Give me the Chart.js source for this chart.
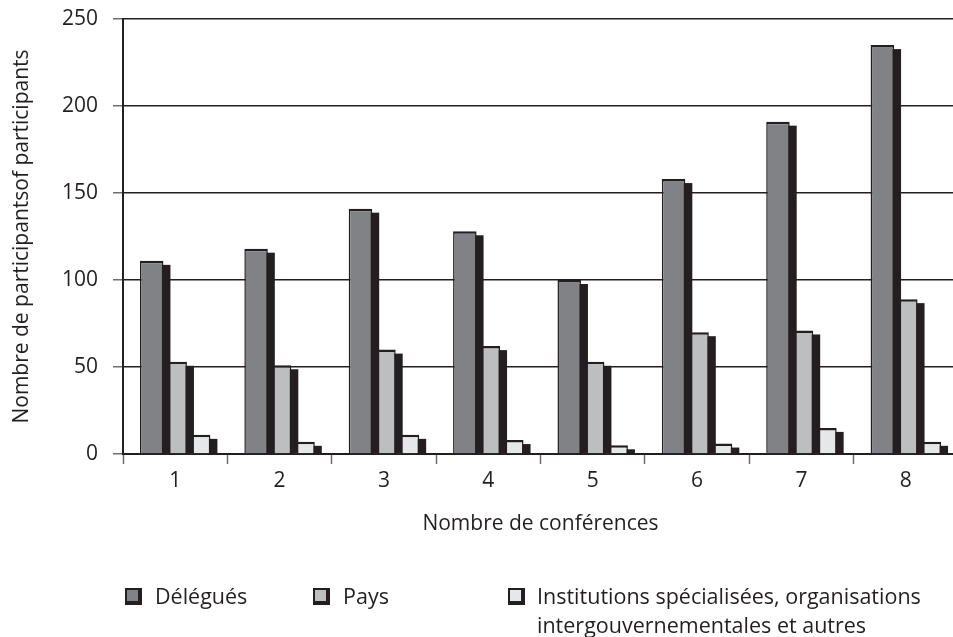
<!DOCTYPE html>
<html>
<head>
<meta charset="utf-8">
<script src="https://cdn.jsdelivr.net/npm/chart.js@4"></script>
<style>
html,body{margin:0;padding:0;overflow:hidden;background:#fff;width:953px;height:637px;}
#wrap{position:relative;width:960px;height:637px;}
canvas{position:absolute;left:0;top:0;}
.leg{position:absolute;font-family:'Open Sans',sans-serif;font-size:21.5px;color:#231f20;line-height:29px;white-space:nowrap;}
.box{position:absolute;width:13px;height:13px;border:2px solid #231f20;box-shadow:inset -2px -2px 0 #231f20;}
</style>
</head>
<body>
<div id="wrap">
<canvas id="c" width="960" height="637"></canvas>
<div class="box" style="left:125px;top:588px;background:#808285"></div>
<div class="leg" style="left:155px;top:581px">Délégués</div>
<div class="box" style="left:313px;top:588px;background:#bcbec0"></div>
<div class="leg" style="left:343px;top:581px">Pays</div>
<div class="box" style="left:508px;top:588px;background:#e6e7e8"></div>
<div class="leg" style="left:537px;top:581px">Institutions spécialisées, organisations<br>intergouvernementales et autres</div>
</div>
<script>
const categories = ['1', '2', '3', '4', '5', '6', '7', '8'];
const delegues = [111, 118, 141, 128, 100, 158, 191, 235];
const pays = [53, 51, 60, 62, 53, 70, 71, 89];
const institutions = [11, 7, 11, 8, 5, 6, 15, 7];
const yTicks = [0, 50, 100, 150, 200, 250];
const seriesNames = ['Délégués', 'Pays', 'Institutions spécialisées, organisations intergouvernementales et autres'];

const DARK = '#231f20';
const font = {family: "'Open Sans', sans-serif", size: 21};

const shadowPlugin = {
  id: 'barShadow',
  beforeDatasetDraw(chart, args) {
    const ctx = chart.ctx;
    const a = chart.chartArea;
    ctx.save();
    ctx.beginPath();
    ctx.rect(a.left, a.top, a.right - a.left, a.bottom - a.top);
    ctx.clip();
    ctx.fillStyle = DARK;
    args.meta.data.forEach(el => {
      const p = el.getProps(['x', 'y', 'base', 'width'], true);
      const h = p.base - p.y - 4;
      if (h > 0) ctx.fillRect(p.x - p.width / 2 + 7, p.y + 4, p.width, h);
    });
    ctx.restore();
  }
};

const barStyle = {
  borderColor: DARK,
  borderWidth: {top: 2.5, left: 1.5, right: 1.5, bottom: 0},
  borderSkipped: 'start',
  categoryPercentage: 0.675,
  barPercentage: 1
};

new Chart(document.getElementById('c'), {
  type: 'bar',
  data: {
    labels: categories,
    datasets: [
      Object.assign({label: seriesNames[0], data: delegues, backgroundColor: '#808285'}, barStyle),
      Object.assign({label: seriesNames[1], data: pays, backgroundColor: '#bcbec0'}, barStyle),
      Object.assign({label: seriesNames[2], data: institutions, backgroundColor: '#e6e7e8'}, barStyle)
    ]
  },
  options: {
    responsive: false,
    animation: false,
    devicePixelRatio: 1,
    layout: {padding: {top: 19, right: 2, left: 0, bottom: 0}},
    plugins: {legend: {display: false}, tooltip: {enabled: false}},
    scales: {
      x: {
        offset: true,
        grid: {offset: true, drawOnChartArea: false, drawTicks: true, tickLength: 10, tickColor: '#6d6e71', tickWidth: 1.5},
        border: {display: true, color: DARK, width: 2},
        ticks: {font: font, color: DARK, padding: 4, maxRotation: 0},
        title: {display: true, text: 'Nombre de conférences', font: font, color: DARK, padding: {top: 0, bottom: 100}},
        afterFit(s) { s.height = 183; }
      },
      y: {
        min: 0,
        max: 250,
        afterBuildTicks(s) { s.ticks = yTicks.map(v => ({value: v})); },
        ticks: {font: font, color: DARK, padding: 15},
        grid: {color: DARK, lineWidth: 1.5, tickLength: 10, tickColor: '#6d6e71', tickWidth: 1.5},
        border: {display: true, color: DARK, width: 2},
        title: {display: true, text: 'Nombre de participantsof participants', font: font, color: DARK, padding: {top: 9, bottom: 0}},
        afterFit(s) { s.width = 123; s.paddingTop = 0; s.paddingBottom = 0; }
      }
    }
  },
  plugins: [shadowPlugin]
});
</script>
</body>
</html>
